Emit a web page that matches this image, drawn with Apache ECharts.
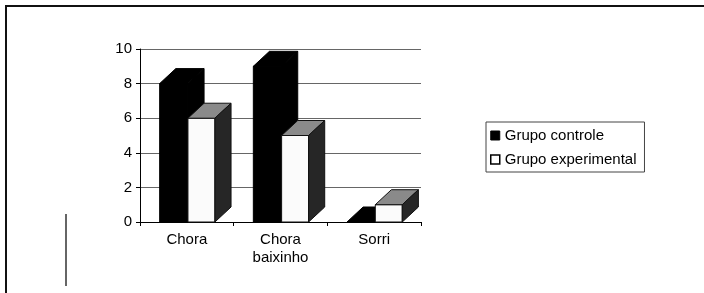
<!DOCTYPE html>
<html>
<head>
<meta charset="utf-8">
<script src="https://cdn.jsdelivr.net/npm/echarts@6/dist/echarts.min.js"></script>
<style>
html,body{margin:0;padding:0;background:#fff;}
#chart{width:704px;height:293px;}
</style>
</head>
<body>
<div id="chart"></div>
<script>
var categories = ['Chora', 'Chora\nbaixinho', 'Sorri'];
var seriesNames = ['Grupo controle', 'Grupo experimental'];
var controle = [8, 9, 0];
var experimental = [6, 5, 1];
var yTicks = [0, 2, 4, 6, 8, 10];

var FONT = 'Liberation Sans, Arial, sans-serif';

function makeRender(off0, off1, front, topC, side, stroke) {
  return function (params, api) {
    var ci = api.value(0), v = api.value(1);
    var base = api.coord([ci, 0]);
    var top = api.coord([ci, v]);
    var band = api.size([1, 0])[0];
    var x0 = base[0] + off0 * band, x1 = base[0] + off1 * band;
    var dx = 0.172 * band, dy = 0.16 * band;
    var yt = top[1], yb = base[1];
    var children = [];
    if (yb - yt > 0.5) {
      children.push({type: 'rect', shape: {x: x0, y: yt, width: x1 - x0, height: yb - yt},
        style: {fill: front, stroke: stroke, lineWidth: 1}});
    }
    children.push({type: 'polygon', shape: {points: [[x0, yt], [x1, yt], [x1 + dx, yt - dy], [x0 + dx, yt - dy]]},
      style: {fill: topC, stroke: stroke, lineWidth: 1}});
    children.push({type: 'polygon', shape: {points: [[x1, yt], [x1 + dx, yt - dy], [x1 + dx, yb - dy], [x1, yb]]},
      style: {fill: side, stroke: stroke, lineWidth: 1}});
    return {type: 'group', children: children};
  };
}

var chart = echarts.init(document.getElementById('chart'), null, {renderer: 'canvas'});
chart.setOption({
  backgroundColor: '#fff',
  animation: false,
  textStyle: {fontFamily: FONT},
  grid: {left: 140, right: 283, top: 49, bottom: 71, containLabel: false},
  xAxis: {
    type: 'category',
    data: categories,
    boundaryGap: true,
    axisLine: {lineStyle: {color: '#000', width: 1}},
    axisTick: {show: true, length: 4, lineStyle: {color: '#000'}},
    axisLabel: {color: '#000', fontSize: 15, fontFamily: FONT, margin: 9, lineHeight: 18},
    splitLine: {show: false}
  },
  yAxis: {
    type: 'value',
    min: yTicks[0], max: yTicks[yTicks.length - 1], interval: yTicks[1] - yTicks[0],
    axisLine: {show: true, lineStyle: {color: '#000', width: 1}},
    axisTick: {show: true, length: 4, lineStyle: {color: '#000'}},
    axisLabel: {color: '#000', fontSize: 15, fontFamily: FONT, margin: 8},
    splitLine: {show: true, lineStyle: {color: '#666', width: 1}}
  },
  legend: {
    orient: 'vertical',
    left: 486, top: 122,
    padding: [6, 8, 5, 4],
    itemGap: 9,
    itemWidth: 9, itemHeight: 9,
    borderColor: '#444', borderWidth: 1,
    textStyle: {fontSize: 15, fontFamily: FONT, color: '#000', lineHeight: 15},
    data: [
      {name: seriesNames[0], icon: 'rect', itemStyle: {color: '#000', borderColor: '#000', borderWidth: 1}},
      {name: seriesNames[1], icon: 'rect', itemStyle: {color: '#fff', borderColor: '#000', borderWidth: 1.5}}
    ]
  },
  graphic: [
    {type: 'line', shape: {x1: 5, y1: 6, x2: 704, y2: 6}, style: {stroke: '#111', lineWidth: 2}, silent: true},
    {type: 'line', shape: {x1: 6, y1: 5, x2: 6, y2: 293}, style: {stroke: '#111', lineWidth: 2}, silent: true},
    {type: 'line', shape: {x1: 66, y1: 214, x2: 66, y2: 286}, style: {stroke: '#333', lineWidth: 1.5}, silent: true}
  ],
  series: [
    {
      name: seriesNames[0], type: 'custom',
      itemStyle: {color: '#000'},
      data: controle.map(function (v, i) { return [i, v]; }),
      encode: {x: 0, y: 1},
      renderItem: makeRender(-0.29, 0.012, '#000', '#000', '#000', '#000')
    },
    {
      name: seriesNames[1], type: 'custom',
      itemStyle: {color: '#fff'},
      data: experimental.map(function (v, i) { return [i, v]; }),
      encode: {x: 0, y: 1},
      renderItem: makeRender(0.012, 0.3, '#fbfbfb', '#8a8a8a', '#262626', '#111')
    }
  ]
});
</script>
</body>
</html>
